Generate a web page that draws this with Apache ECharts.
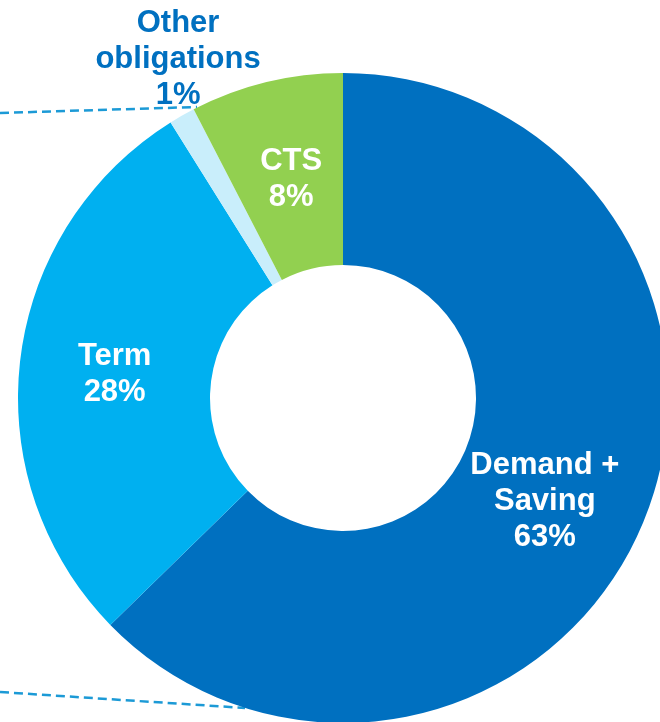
<!DOCTYPE html>
<html><head><meta charset="utf-8">
<script src="https://cdn.jsdelivr.net/npm/echarts@6/dist/echarts.min.js"></script>
<style>html,body{margin:0;padding:0;background:#fff}#c{width:660px;height:722px}</style>
</head><body><div id="c"></div>
<script>
const categories = ['Demand +\nSaving', 'Term', 'Other\nobligations', 'CTS'];
const shares = [62.7, 28.4, 1.3, 7.6];
const colors = ['#0070C0', '#00B0F0', '#C9EEFB', '#92D050'];

const chart = echarts.init(document.getElementById('c'));
const offsets = [[-12, 13], [2, 4], [-50, -137], [3, 7]];
const data = categories.map((n, i) => {
  const d = { name: n, value: shares[i], itemStyle: { color: colors[i] }, label: { offset: offsets[i] } };
  if (i === 2) d.label.color = '#0070C0';
  return d;
});
chart.setOption({
  animation: false,
  graphic: [
    { type: 'line', shape: { x1: 0, y1: 113, x2: 197, y2: 107 }, style: { stroke: '#1C9AD6', lineWidth: 2.5, lineDash: [9, 5] }, z: 0 },
    { type: 'line', shape: { x1: 0, y1: 692, x2: 245, y2: 708 }, style: { stroke: '#1C9AD6', lineWidth: 2.5, lineDash: [9, 5] }, z: 0 }
  ],
  series: [{
    type: 'pie',
    center: [343, 398],
    radius: [133, 325],
    startAngle: 90,
    clockwise: true,
    data: data,
    itemStyle: { borderWidth: 0 },
    emphasis: { disabled: true },
    labelLine: { show: false },
    label: {
      show: true,
      position: 'inside',
      color: '#fff',
      fontFamily: 'Liberation Sans, Arial, sans-serif',
      fontWeight: 'bold',
      fontSize: 31,
      lineHeight: 36,
      align: 'center',
      formatter: p => p.name + '\n' + Math.round(p.value) + '%'
    }
  }]
});
</script></body></html>
